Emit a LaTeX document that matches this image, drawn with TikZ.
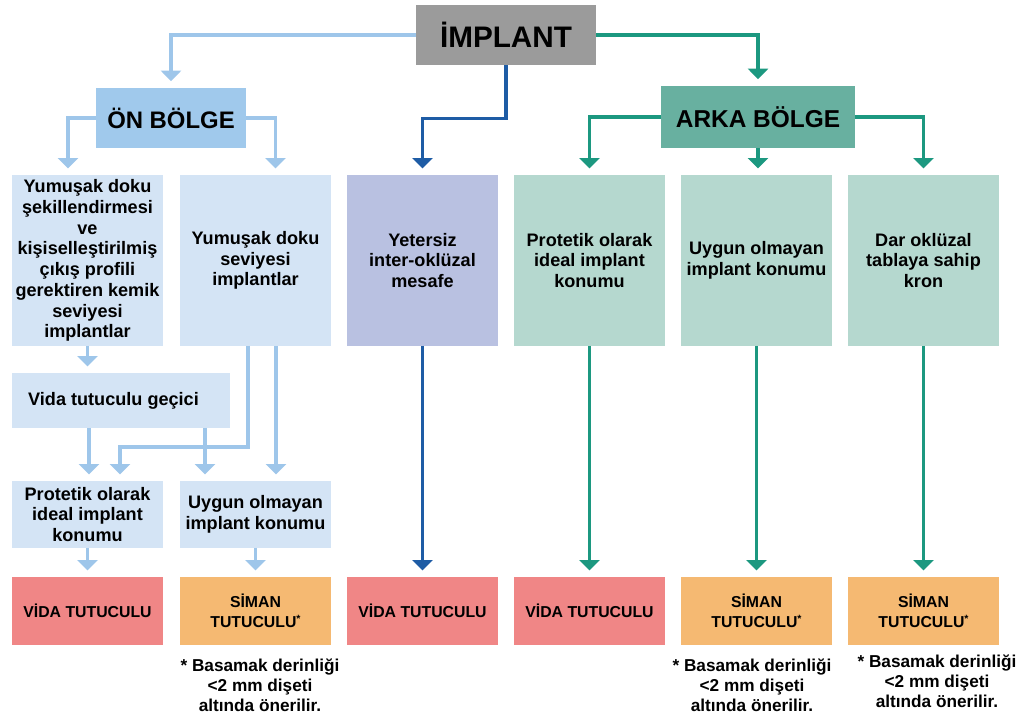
\documentclass[tikz,border=0pt]{standalone}
\usepackage{fontspec}
\setmainfont{Liberation Sans}
\usetikzlibrary{arrows.meta}

\definecolor{grau}{RGB}{155,155,155}
\definecolor{onblue}{RGB}{160,201,236}
\definecolor{arkateal}{RGB}{104,176,160}
\definecolor{paleblue}{RGB}{212,228,245}
\definecolor{lavender}{RGB}{185,193,225}
\definecolor{mint}{RGB}{181,216,207}
\definecolor{vidapink}{RGB}{240,134,134}
\definecolor{simanorange}{RGB}{245,185,114}
\definecolor{linelb}{RGB}{158,198,234}
\definecolor{linet}{RGB}{28,152,128}
\definecolor{linedb}{RGB}{30,92,165}

\newcommand{\starmark}{{\fontsize{6}{6}\selectfont\raisebox{0.45em}{*}}}

\begin{document}
\begin{tikzpicture}[x=0.02cm,y=-0.02cm,
	rowbox/.style={fill=#1,inner sep=0,outer sep=0,minimum width=3.02cm,minimum height=3.42cm,align=center,font=\bfseries\fontsize{10.3}{11.8}\selectfont},
	endbox/.style={fill=#1,inner sep=0,outer sep=0,minimum width=3.02cm,minimum height=1.36cm,align=center,font=\bfseries\fontsize{9}{11.3}\selectfont},
	note/.style={anchor=north,inner sep=0,align=center,font=\bfseries\fontsize{9.8}{11.5}\selectfont},
	conn/.style={line width=2pt,shorten >=0.13cm,-{Triangle[width=0.4cm,length=0.21cm]}},
	lbarrow/.style={conn,draw=linelb},
	tarrow/.style={conn,draw=linet},
	dbarrow/.style={conn,draw=linedb}]
	\useasboundingbox (0,0) rectangle (1021,720);
	% top level
	\node[fill=grau,inner sep=0,minimum width=3.6cm,minimum height=1.2cm,font=\bfseries\fontsize{16.9}{20}\selectfont] (1) at (506,35) {İMPLANT};
	\node[fill=onblue,inner sep=0,minimum width=3cm,minimum height=1.2cm,font=\bfseries\fontsize{13.6}{16}\selectfont] (2) at (171,118) {ÖN BÖLGE};
	\node[fill=arkateal,inner sep=0,minimum width=3.88cm,minimum height=1.24cm,font=\bfseries\fontsize{13.9}{16}\selectfont] (3) at (758,117) {ARKA BÖLGE};
	% middle row
	\node[rowbox=paleblue] (4) at (87.5,260.5) {Yumuşak doku\\şekillendirmesi\\ve\\kişiselleştirilmiş\\çıkış profili\\gerektiren kemik\\seviyesi\\implantlar};
	\node[rowbox=paleblue] (5) at (255.5,260.5) {Yumuşak doku\\seviyesi\\implantlar};
	\node[rowbox=lavender] (6) at (422.5,260.5) {Yetersiz\\inter-oklüzal\\mesafe};
	\node[rowbox=mint] (7) at (589.5,260.5) {Protetik olarak\\ideal implant\\konumu};
	\node[rowbox=mint] (8) at (756.5,260.5) {Uygun olmayan\\implant konumu};
	\node[rowbox=mint] (9) at (923.5,260.5) {Dar oklüzal\\tablaya sahip\\kron};
	% ön bölge steps
	\node[rowbox=paleblue,minimum width=4.36cm,minimum height=1.1cm] (10) at (121,400.5) {Vida tutuculu geçici\hspace{0.3cm}};
	\node[rowbox=paleblue,minimum height=1.34cm] (11) at (87.5,514.5) {Protetik olarak\\ideal implant\\konumu};
	\node[rowbox=paleblue,minimum height=1.34cm] (12) at (255.5,514.5) {Uygun olmayan\\implant konumu};
	% results
	\node[endbox=vidapink] (13) at (87.5,611) {VİDA TUTUCULU};
	\node[endbox=simanorange] (14) at (255.5,611) {SİMAN\\TUTUCULU\starmark};
	\node[endbox=vidapink] (15) at (422.5,611) {VİDA TUTUCULU};
	\node[endbox=vidapink] (16) at (589.5,611) {VİDA TUTUCULU};
	\node[endbox=simanorange] (17) at (756.5,611) {SİMAN\\TUTUCULU\starmark};
	\node[endbox=simanorange] (18) at (923.5,611) {SİMAN\\TUTUCULU\starmark};
	\node[note] (19) at (260,658) {* Basamak derinliği\\<2 mm dişeti\\altında önerilir.};
	\node[note] (20) at (752,658) {* Basamak derinliği\\<2 mm dişeti\\altında önerilir.};
	\node[note] (21) at (937,654) {* Basamak derinliği\\<2 mm dişeti\\altında önerilir.};
	% connectors
	\draw[lbarrow] (1.west) -| (2.north);
	\draw[tarrow] (1.east) -| (3.north);
	\draw[dbarrow] (1.south) -- ++(0,53) -| (6.north);
	\draw[lbarrow] (2.west) -| ([xshift=-0.39cm]4.north);
	\draw[lbarrow] (2.east) -| ([xshift=0.4cm]5.north);
	\draw[tarrow] (3.west) -| (7.north);
	\draw[tarrow] (3.south) -- (3.south |- 8.north);
	\draw[tarrow] (3.east) -| (9.north);
	\draw[lbarrow] (4.south) -- (4.south |- 10.north);
	\draw[lbarrow] ([xshift=-0.64cm]10.south) -- ([xshift=-0.64cm]10.south |- 11.north);
	\draw[lbarrow] ([xshift=1.68cm]10.south) -- ([xshift=1.68cm]10.south |- 12.north);
	\draw[lbarrow] ([xshift=-0.15cm]5.south) -- ++(0,101) -| ([xshift=0.65cm]11.north);
	\draw[lbarrow] ([xshift=0.41cm]5.south) -- ([xshift=0.41cm]5.south |- 12.north);
	\draw[lbarrow] (11.south) -- (13.north);
	\draw[lbarrow] (12.south) -- (14.north);
	\draw[dbarrow] (6.south) -- (15.north);
	\draw[tarrow] (7.south) -- (16.north);
	\draw[tarrow] (8.south) -- (17.north);
	\draw[tarrow] (9.south) -- (18.north);
\end{tikzpicture}
\end{document}
